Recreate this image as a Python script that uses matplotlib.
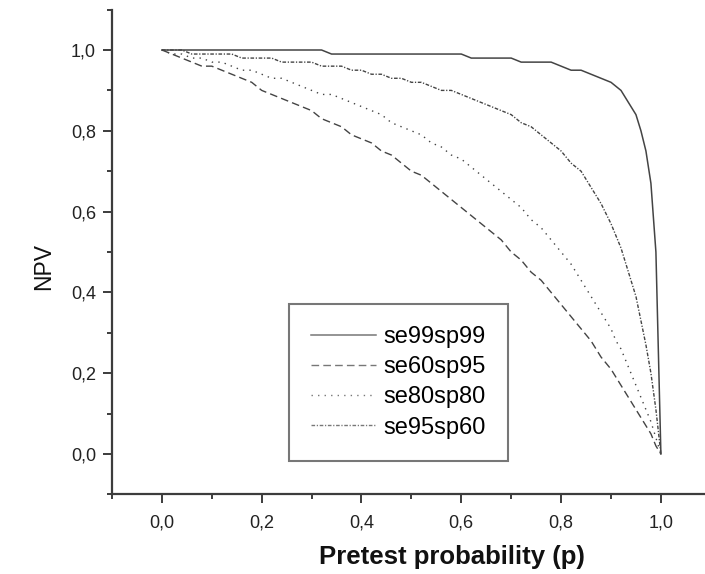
import numpy as np
import matplotlib
matplotlib.use("Agg")
import matplotlib.pyplot as plt
from matplotlib.ticker import MultipleLocator, FuncFormatter

plt.rcParams['font.family'] = ['Liberation Sans', 'DejaVu Sans']

# pretest probability grid (0.02 steps up to 0.9, then 0.01)
p = [0.00, 0.02, 0.04, 0.06, 0.08, 0.10, 0.12, 0.14, 0.16, 0.18,
     0.20, 0.22, 0.24, 0.26, 0.28, 0.30, 0.32, 0.34, 0.36, 0.38,
     0.40, 0.42, 0.44, 0.46, 0.48, 0.50, 0.52, 0.54, 0.56, 0.58,
     0.60, 0.62, 0.64, 0.66, 0.68, 0.70, 0.72, 0.74, 0.76, 0.78,
     0.80, 0.82, 0.84, 0.86, 0.88, 0.90,
     0.91, 0.92, 0.93, 0.94, 0.95, 0.96, 0.97, 0.98, 0.99, 1.00]

se99sp99 = [1.00, 1.00, 1.00, 1.00, 1.00, 1.00, 1.00, 1.00, 1.00, 1.00,
            1.00, 1.00, 1.00, 1.00, 1.00, 1.00, 1.00, 0.99, 0.99, 0.99,
            0.99, 0.99, 0.99, 0.99, 0.99, 0.99, 0.99, 0.99, 0.99, 0.99,
            0.99, 0.98, 0.98, 0.98, 0.98, 0.98, 0.97, 0.97, 0.97, 0.97,
            0.96, 0.95, 0.95, 0.94, 0.93, 0.92,
            0.91, 0.90, 0.88, 0.86, 0.84, 0.80, 0.75, 0.67, 0.50, 0.00]

se60sp95 = [1.00, 0.99, 0.98, 0.97, 0.96, 0.96, 0.95, 0.94, 0.93, 0.92,
            0.90, 0.89, 0.88, 0.87, 0.86, 0.85, 0.83, 0.82, 0.81, 0.79,
            0.78, 0.77, 0.75, 0.74, 0.72, 0.70, 0.69, 0.67, 0.65, 0.63,
            0.61, 0.59, 0.57, 0.55, 0.53, 0.50, 0.48, 0.45, 0.43, 0.40,
            0.37, 0.34, 0.31, 0.28, 0.24, 0.21,
            0.19, 0.17, 0.15, 0.13, 0.11, 0.09, 0.07, 0.05, 0.02, 0.00]

se80sp80 = [1.00, 0.99, 0.99, 0.98, 0.98, 0.97, 0.97, 0.96, 0.95, 0.95,
            0.94, 0.93, 0.93, 0.92, 0.91, 0.90, 0.89, 0.89, 0.88, 0.87,
            0.86, 0.85, 0.84, 0.82, 0.81, 0.80, 0.79, 0.77, 0.76, 0.74,
            0.73, 0.71, 0.69, 0.67, 0.65, 0.63, 0.61, 0.58, 0.56, 0.53,
            0.50, 0.47, 0.43, 0.39, 0.35, 0.31,
            0.28, 0.26, 0.23, 0.20, 0.17, 0.14, 0.11, 0.08, 0.04, 0.00]

se95sp60 = [1.00, 1.00, 1.00, 0.99, 0.99, 0.99, 0.99, 0.99, 0.98, 0.98,
            0.98, 0.98, 0.97, 0.97, 0.97, 0.97, 0.96, 0.96, 0.96, 0.95,
            0.95, 0.94, 0.94, 0.93, 0.93, 0.92, 0.92, 0.91, 0.90, 0.90,
            0.89, 0.88, 0.87, 0.86, 0.85, 0.84, 0.82, 0.81, 0.79, 0.77,
            0.75, 0.72, 0.70, 0.66, 0.62, 0.57,
            0.54, 0.51, 0.47, 0.43, 0.39, 0.33, 0.27, 0.20, 0.11, 0.00]

line_col = '#444444'
axis_col = '#3c3c3c'

fig = plt.figure(figsize=(7.05, 5.74), dpi=100)
ax = fig.add_axes([112 / 705, 79.6 / 574, 598.8 / 705, 484.8 / 574])

ax.plot(p, se99sp99, color=line_col, lw=1.1, ls='-', label='se99sp99')
ax.plot(p, se60sp95, color=line_col, lw=1.0, dashes=(5.5, 3), label='se60sp95')
ax.plot(p, se80sp80, color=line_col, lw=1.0, dashes=(1, 3.7), label='se80sp80')
ax.plot(p, se95sp60, color=line_col, lw=1.0, dashes=(2.6, 1.2, 0.9, 1.2), label='se95sp60')

ax.set_xlim(-0.1, 1.1)
ax.set_ylim(-0.1, 1.1)

for s in ['top', 'right']:
    ax.spines[s].set_visible(False)
for s in ['left', 'bottom']:
    ax.spines[s].set_color(axis_col)
    ax.spines[s].set_linewidth(1.6)

ax.xaxis.set_major_locator(MultipleLocator(0.2))
ax.xaxis.set_minor_locator(MultipleLocator(0.1))
ax.yaxis.set_major_locator(MultipleLocator(0.2))
ax.yaxis.set_minor_locator(MultipleLocator(0.1))
comma = FuncFormatter(lambda v, pos: ('%.1f' % v).replace('.', ','))
ax.xaxis.set_major_formatter(comma)
ax.yaxis.set_major_formatter(comma)
ax.tick_params(which='major', direction='out', length=6.5, width=1.4, color=axis_col,
               labelsize=13, labelcolor='#222222')
ax.tick_params(axis='x', which='major', pad=8)
ax.tick_params(axis='y', which='major', pad=5)
ax.tick_params(which='minor', direction='out', length=3.5, width=1.4, color=axis_col)

ax.set_ylabel('NPV', fontsize=16.5, color='#111111')
ax.yaxis.set_label_coords(-0.095, 0.471)
ax.set_xlabel('Pretest probability (p)', fontsize=18.5, fontweight='bold', color='#111111')
ax.xaxis.set_label_coords(0.568, -0.105)

leg = ax.legend(loc='lower left', bbox_to_anchor=(0.295, 0.069), fontsize=17,
                frameon=True, fancybox=False, borderpad=0.95, labelspacing=0.34,
                handlelength=2.75, handletextpad=0.3, borderaxespad=0)
leg.get_frame().set_edgecolor('#555555')
leg.get_frame().set_linewidth(1.5)
for h in leg.get_lines():
    h.set_color('#777777')

fig.savefig('out.png', dpi=100)
